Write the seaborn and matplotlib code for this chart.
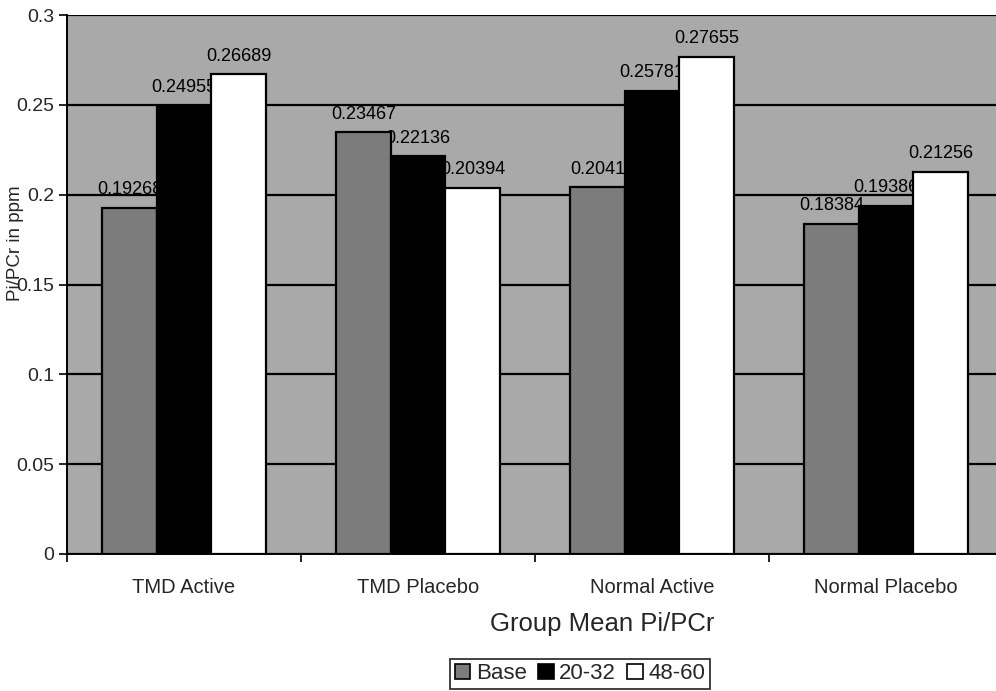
import matplotlib
matplotlib.use("Agg")
import matplotlib.pyplot as plt
import seaborn as sns
import pandas as pd
from matplotlib.patches import Patch

# Group means of Pi/PCr for each session window
groups = ["TMD Active", "TMD Placebo", "Normal Active", "Normal Placebo"]
sessions = ["Base", "20-32", "48-60"]
base_vals = [0.19268, 0.23467, 0.2041, 0.18384]
mid_vals = [0.24955, 0.22136, 0.25781, 0.19386]
late_vals = [0.26689, 0.20394, 0.27655, 0.21256]
y_ticks = [0, 0.05, 0.1, 0.15, 0.2, 0.25, 0.3]
y_tick_labels = ["0", "0.05", "0.1", "0.15", "0.2", "0.25", "0.3"]

rows = []
for name, vals in zip(sessions, [base_vals, mid_vals, late_vals]):
    for g, v in zip(groups, vals):
        rows.append({"group": g, "session": name, "value": v})
df = pd.DataFrame(rows)

sns.set_theme(style="white")
plt.rcParams["font.family"] = ["Liberation Sans", "DejaVu Sans"]

palette = {"Base": "#7c7c7c", "20-32": "#000000", "48-60": "#ffffff"}

fig = plt.figure(figsize=(9.96, 6.91), dpi=100)
# plot area runs slightly past the right edge of the canvas
ax = fig.add_axes([67 / 996, 1 - 554 / 691, 936 / 996, 539 / 691])
ax.set_facecolor("#a9a9a9")

sns.barplot(data=df, x="group", y="value", hue="session", order=groups,
            hue_order=sessions, palette=palette, width=0.7, gap=0,
            edgecolor="black", linewidth=1.6, errorbar=None, ax=ax,
            legend=False, saturation=1)

for p in ax.patches:
    p.set_zorder(2)

# value labels sit underneath the bars so neighbouring bars cover them
for cont in ax.containers:
    for rect in cont:
        h = rect.get_height()
        ax.annotate(str(round(h, 5)), (rect.get_x() + rect.get_width() / 2, h),
                    xytext=(0, 7), textcoords="offset points",
                    ha="center", va="bottom", fontsize=13, color="black",
                    zorder=1.5, annotation_clip=False)

ax.set_xlim(-0.5, 3.5)
ax.set_ylim(0, 0.3)
ax.set_yticks(y_ticks)
ax.set_yticklabels(y_tick_labels, fontsize=14)
ax.yaxis.grid(True, color="black", linewidth=1.6)
ax.set_axisbelow(True)

ax.set_xticks(range(len(groups)))
ax.set_xticklabels(groups, fontsize=14.5)
ax.set_xticks([-0.5, 0.5, 1.5, 2.5, 3.5], minor=True)
ax.tick_params(axis="x", which="major", length=0, pad=17)
ax.tick_params(axis="x", which="minor", length=6, width=1.2, direction="out",
               color="black", bottom=True)
ax.tick_params(axis="y", which="major", length=6, width=1.2, direction="out",
               color="black", left=True, pad=3)

for side in ["top", "right"]:
    ax.spines[side].set_visible(False)
for side in ["left", "bottom"]:
    ax.spines[side].set_color("black")
    ax.spines[side].set_linewidth(1.4)

ax.set_xlabel("")
ax.set_ylabel("")
fig.text(15 / 996, 1 - 243 / 691, "Pi/PCr in ppm", rotation=90,
         ha="center", va="center", fontsize=13.5)
fig.text(602 / 996, 1 - 624 / 691, "Group Mean Pi/PCr",
         ha="center", va="center", fontsize=18.5)

handles = [Patch(facecolor=palette[s], edgecolor="black", linewidth=1.2, label=s)
           for s in sessions]
leg = fig.legend(handles=handles, loc="upper center",
                 bbox_to_anchor=(580 / 996, 1 - 659 / 691),
                 ncol=3, fontsize=16, frameon=True, fancybox=False,
                 handlelength=0.7, handleheight=0.7, handletextpad=0.25,
                 columnspacing=0.5, borderpad=0.2, borderaxespad=0)
leg.get_frame().set_edgecolor("black")
leg.get_frame().set_linewidth(1.3)

fig.savefig("out.png", dpi=100)
